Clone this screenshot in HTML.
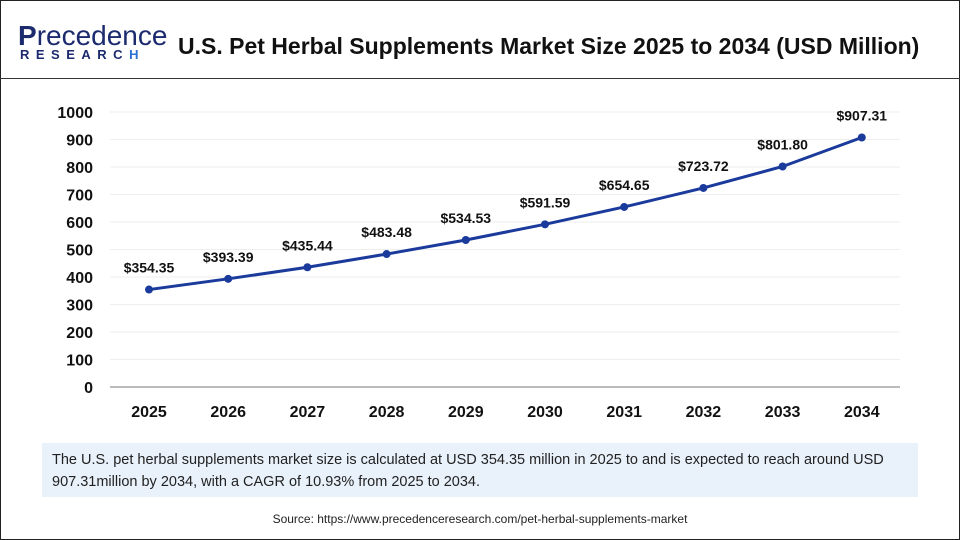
<!DOCTYPE html>
<html><head><meta charset="utf-8"><style>
body{margin:0;width:960px;height:540px;overflow:hidden;background:#fff;font-family:"Liberation Sans",sans-serif}
#frame{position:absolute;left:0;top:0;width:958px;height:538px;border:1px solid #222}
#hdr{position:absolute;left:0;top:0;width:960px;height:78px;border-bottom:1px solid #333}
#title{position:absolute;left:178px;top:33px;font-size:23px;font-weight:bold;color:#111}
#logo1{position:absolute;left:18px;top:20px;font-size:28px;color:#1c2a6e;letter-spacing:0px}
#logo2{position:absolute;left:20px;top:47px;font-size:13px;font-weight:bold;color:#1c2a6e;letter-spacing:6.5px}
#cap{position:absolute;left:42px;top:443px;width:876px;height:54px;background:#e9f1fb;padding:6px 10px;box-sizing:border-box;font-size:14.5px;line-height:22px;color:#222}
#src{position:absolute;left:0;width:960px;top:512px;text-align:center;font-size:12px;color:#222}
</style></head><body>
<div id="frame"></div>
<div id="hdr">
<div id="logo1"><span style="font-weight:bold;color:#1c2a6e">P</span>recedence</div>
<div id="logo2">RESEARC<span style="color:#2d6fd6">H</span></div>
<div id="title">U.S. Pet Herbal Supplements Market Size 2025 to 2034 (USD Million)</div>
</div>
<svg id="chart" width="960" height="540" style="position:absolute;left:0;top:0"></svg>
<div id="cap">The U.S. pet herbal supplements market size is calculated at USD 354.35 million in 2025 to and is expected to reach around USD 907.31million by 2034, with a CAGR of 10.93% from 2025 to 2034.</div>
<div id="src">Source: https://www.precedenceresearch.com/pet-herbal-supplements-market</div>
<script>
const years=["2025","2026","2027","2028","2029","2030","2031","2032","2033","2034"];
const values=[354.35,393.39,435.44,483.48,534.53,591.59,654.65,723.72,801.80,907.31];
const yTicks=[0,100,200,300,400,500,600,700,800,900,1000];
const NS="http://www.w3.org/2000/svg";
const svg=document.getElementById('chart');
const x=i=>149+i*79.2;
const y=v=>387-v*0.275;
function mk(t,a,p){const e=document.createElementNS(NS,t);for(const k in a)e.setAttribute(k,a[k]);(p||svg).appendChild(e);return e;}
yTicks.forEach(t=>{
 const l=mk('line',{x1:110,x2:900,y1:y(t),y2:y(t),stroke:t===0?'#bbb':'#eee','stroke-width':t===0?2:1});
 
 
 const tx=mk('text',{x:93,y:y(t)+6,'text-anchor':'end','font-size':16,'font-weight':'bold',fill:'#111'});
 tx.textContent=t;
 
 
});
years.forEach((yr,i)=>{
 const tx=mk('text',{x:x(i),y:417,'text-anchor':'middle','font-size':16,'font-weight':'bold',fill:'#111'});
 tx.textContent=yr;
 
 
});
const pl=mk('polyline',{points:values.map((v,i)=>x(i)+','+y(v)).join(' '),fill:'none',stroke:'#1a3a9c','stroke-width':3});


values.forEach((v,i)=>{
 const c=mk('circle',{cx:x(i),cy:y(v),r:4,fill:'#1a3a9c'});
 
 
 const t=mk('text',{x:x(i),y:y(v)-17,'text-anchor':'middle','font-size':14,'font-weight':'bold',fill:'#111'});
 t.textContent='$'+v.toFixed(2);
 
 
});
</script>
</body></html>
